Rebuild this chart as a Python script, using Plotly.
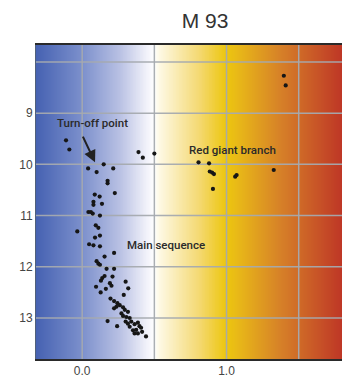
import numpy as np
import plotly.graph_objects as go

# ---- data (colour index B-V, magnitude V) ----
ms_x = [-0.112, -0.089, 0.041, 0.10, 0.149, 0.215, 0.176, 0.176, 0.226, 0.087, 0.121,
        0.078, 0.137, 0.078, 0.043, 0.06, 0.073, 0.123, -0.034, 0.094, 0.112, 0.123,
        0.089, 0.048, 0.078, 0.123, 0.221, 0.155, 0.10, 0.112, 0.123, 0.169, 0.221,
        0.155, 0.21, 0.139, 0.13, 0.192, 0.203, 0.301, 0.319, 0.096, 0.164, 0.128,
        0.288, 0.196, 0.221, 0.244, 0.26, 0.237, 0.221, 0.283, 0.295, 0.317, 0.272,
        0.283, 0.306, 0.329, 0.176, 0.242, 0.301, 0.317, 0.34, 0.363, 0.386, 0.397,
        0.329, 0.352, 0.374, 0.408, 0.363, 0.386, 0.415, 0.442]
ms_y = [9.53, 9.71, 10.08, 10.15, 10.0, 10.08, 10.32, 10.37, 10.56, 10.59, 10.63,
        10.73, 10.77, 10.79, 10.93, 10.93, 10.96, 11.0, 11.31, 11.19, 11.24, 11.39,
        11.43, 11.56, 11.58, 11.6, 11.73, 11.8, 11.89, 11.94, 11.96, 12.04, 12.04,
        12.18, 12.19, 12.22, 12.27, 12.32, 12.37, 12.29, 12.42, 12.39, 12.43, 12.5,
        12.55, 12.62, 12.67, 12.71, 12.75, 12.78, 12.81, 12.79, 12.84, 12.88, 12.91,
        12.96, 12.98, 13.0, 13.06, 13.16, 13.07, 13.11, 13.07, 13.12, 13.09, 13.16,
        13.17, 13.24, 13.23, 13.19, 13.3, 13.3, 13.27, 13.36]
rg_x = [0.39, 0.42, 0.50, 0.806, 0.879, 0.884, 0.90, 0.913, 1.06, 1.07, 1.327, 0.906, 1.397, 1.41]
rg_y = [9.76, 9.87, 9.79, 9.96, 9.98, 10.14, 10.16, 10.19, 10.24, 10.21, 10.11, 10.48, 8.27, 8.46]

x_ticks = [0.0, 0.5, 1.0, 1.5]
x_labels = ["0.0", "", "1.0", ""]
y_ticks = [8, 9, 10, 11, 12, 13]
y_labels = ["", "9", "10", "11", "12", "13"]

X_RANGE = [-0.32, 1.8]
Y_RANGE = [13.8, 7.67]

fig = go.Figure()

# background colour gradient
bg_x = np.linspace(X_RANGE[0], X_RANGE[1], 400)
fig.add_trace(go.Heatmap(
    x=bg_x, y=[Y_RANGE[1] - 0.5, Y_RANGE[0] + 0.5], z=[bg_x, bg_x],
    zsmooth="best", showscale=False, hoverinfo="skip",
    zmin=X_RANGE[0], zmax=X_RANGE[1],
    colorscale=[
        [0.0, "rgb(70,98,178)"],
        [0.15, "rgb(124,144,204)"],
        [0.275, "rgb(186,194,228)"],
        [0.365, "rgb(244,244,251)"],
        [0.386, "rgb(255,255,255)"],
        [0.40, "rgb(254,249,230)"],
        [0.536, "rgb(244,216,110)"],
        [0.62, "rgb(236,198,14)"],
        [0.66, "rgb(232,184,24)"],
        [0.80, "rgb(214,128,40)"],
        [1.0, "rgb(190,54,38)"],
    ],
))

# grid lines
gx, gy = [], []
for v in x_ticks:
    gx += [v, v, None]
    gy += [Y_RANGE[0], Y_RANGE[1], None]
for v in y_ticks:
    gx += [X_RANGE[0], X_RANGE[1], None]
    gy += [v, v, None]
fig.add_trace(go.Scatter(x=gx, y=gy, mode="lines", hoverinfo="skip",
                         line=dict(color="rgba(165,170,175,0.95)", width=1.5), showlegend=False))

fig.add_trace(go.Scatter(x=ms_x + rg_x, y=ms_y + rg_y, mode="markers",
                         marker=dict(color="#161616", size=4.2), showlegend=False))

ann_font = dict(family="Roboto, Liberation Sans, Arial, sans-serif", size=11.5,
                color="#2a2a2a", weight=500)
fig.add_annotation(x=0.068, y=9.2, text="Turn-off point", showarrow=False, font=ann_font)
fig.add_annotation(x=1.04, y=9.71, text="Red giant branch", showarrow=False, font=ann_font)
fig.add_annotation(x=0.58, y=11.58, text="Main sequence", showarrow=False, font=ann_font)
fig.add_annotation(x=0.089, y=9.96, ax=0.0, ay=9.43, axref="x", ayref="y",
                   text="", showarrow=True, arrowhead=2, arrowsize=1.2, arrowwidth=2,
                   arrowcolor="#222")

fig.update_layout(
    width=342, height=381,
    margin=dict(l=36, r=0, t=45, b=22),
    paper_bgcolor="white", plot_bgcolor="white",
    showlegend=False,
    title=dict(text="M 93", x=205 / 342, xanchor="center", y=1 - 21 / 381, yanchor="middle",
               xref="container", yref="container",
               font=dict(family="Liberation Sans, Arial, sans-serif", size=21, color="#333")),
    xaxis=dict(range=X_RANGE, tickvals=x_ticks, ticktext=x_labels, showgrid=False,
               zeroline=False, showline=True, linecolor="#2a2a2a", linewidth=2,
               mirror=True, ticks="",
               tickfont=dict(family="Liberation Sans, Arial, sans-serif", size=12, color="#444")),
    yaxis=dict(range=Y_RANGE, tickvals=y_ticks, ticktext=y_labels, showgrid=False,
               zeroline=False, showline=True, linecolor="#50607a", linewidth=1, ticks="",
               tickfont=dict(family="Liberation Sans, Arial, sans-serif", size=12, color="#444")),
)

fig.write_html("out.html")
